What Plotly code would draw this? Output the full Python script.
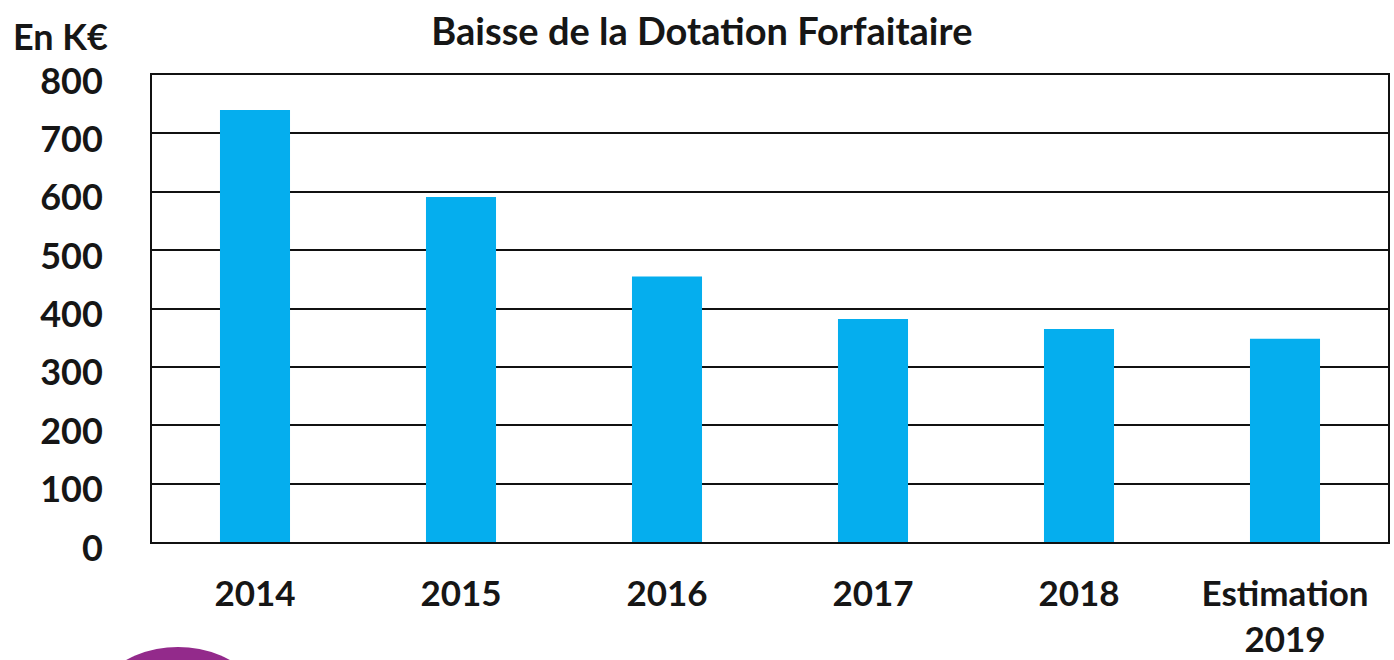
import plotly.graph_objects as go

categories = ["2014", "2015", "2016", "2017", "2018", "Estimation<br>2019"]
values = [740, 591, 455, 382, 365, 348]
y_ticks = [0, 100, 200, 300, 400, 500, 600, 700, 800]

W, H = 1394, 660
L, R, T, B = 152, 6, 75, 118
pw, ph = W - L - R, H - T - B

def px_x(x):
    return (x - L) / pw

def px_y(y):
    return (H - B - y) / ph

font_family = "Lato, 'Open Sans', sans-serif"
txt = "#161616"
fs = 36

fig = go.Figure(go.Bar(
    x=categories, y=values,
    marker=dict(color="#05AEEE", line=dict(width=0)),
    width=0.34,
))

fig.update_layout(
    width=W, height=H,
    margin=dict(l=L, r=R, t=T, b=B),
    paper_bgcolor="white", plot_bgcolor="white",
    showlegend=False,
    font=dict(family=font_family, color=txt),
    title=dict(text="Baisse de la Dotation Forfaitaire", x=0.5035, xanchor="center",
               y=1 - 32 / H, yanchor="middle",
               font=dict(size=38, family=font_family, weight="bold", color=txt)),
    xaxis=dict(
        automargin=False,
        showline=True, linecolor="#111", linewidth=2, mirror=True,
        ticks="", tickfont=dict(size=35, family=font_family, weight="bold", color=txt),
        ticklabelstandoff=20, tickangle=0,
    ),
    yaxis=dict(
        automargin=False,
        range=[0, 800], tickvals=y_ticks,
        showline=True, linecolor="#111", linewidth=2, mirror=True,
        showgrid=True, gridcolor="#111", gridwidth=2,
        ticks="", tickfont=dict(size=fs, family=font_family, weight="bold", color=txt),
        ticklabelstandoff=40, ticklabelshift=6, zeroline=False,
    ),
    annotations=[dict(
        text="En K€", xref="paper", yref="paper",
        x=px_x(60), y=px_y(36), xanchor="center", yanchor="middle",
        showarrow=False, font=dict(size=fs, family=font_family, weight="bold", color=txt),
    )],
    shapes=[dict(
        type="circle", xref="paper", yref="paper",
        x0=px_x(68), x1=px_x(288), y0=px_y(647), y1=px_y(867),
        fillcolor="#932A8B", line=dict(width=0), layer="above",
    )],
)

fig.write_html("out.html")
